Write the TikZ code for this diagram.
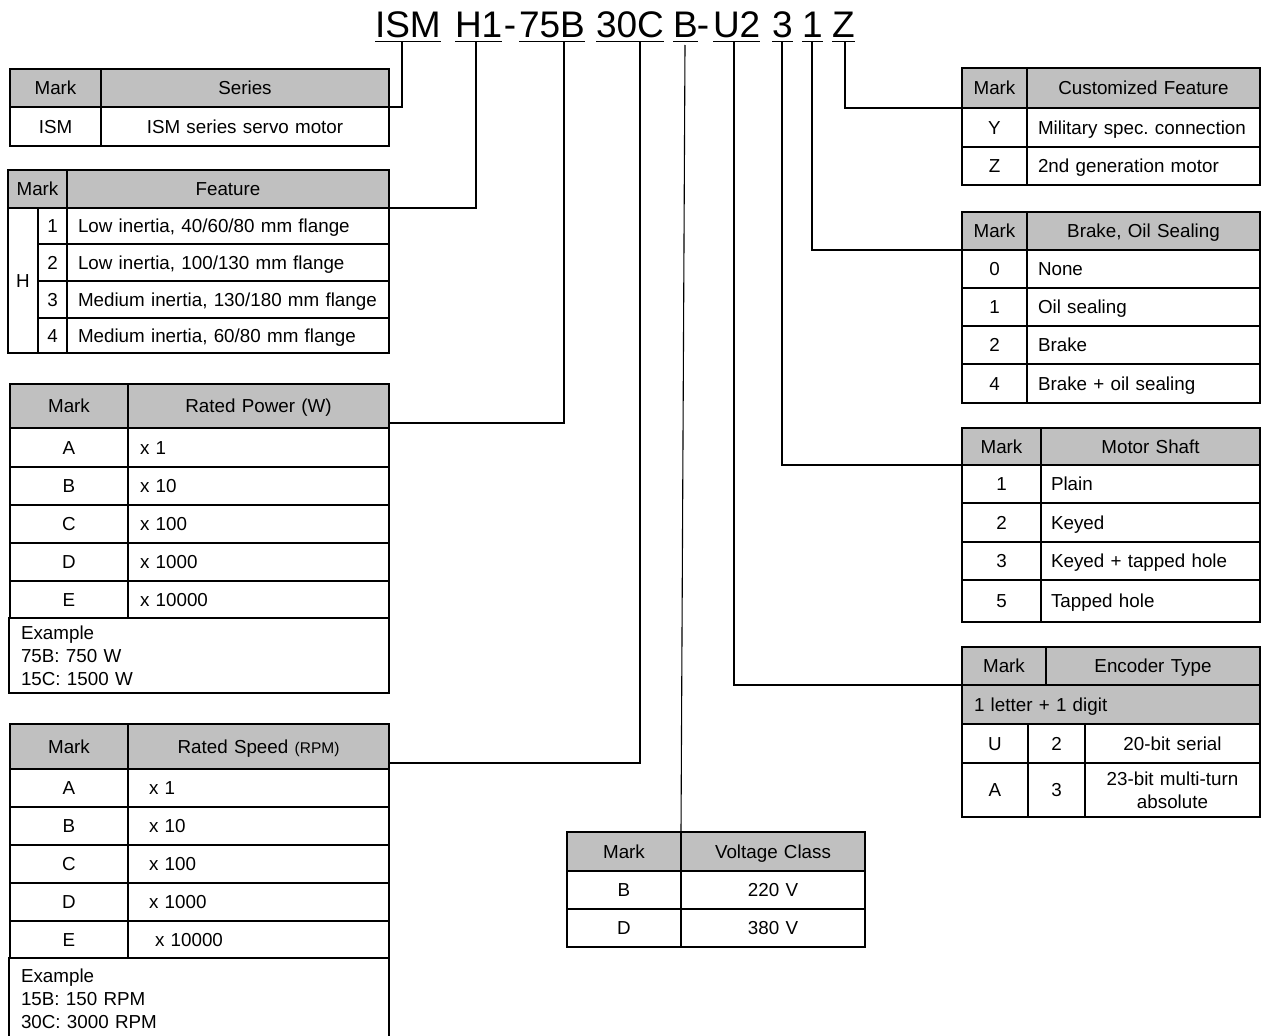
\documentclass[tikz,border=0pt]{standalone}
\usepackage{fontspec}
\setmainfont{Liberation Sans}
\definecolor{hdgray}{RGB}{192,192,192}
\newcommand\cellfont{\fontsize{18.8}{23}\selectfont}
\newcommand\titlefont{\fontsize{37}{40}\selectfont}
\newcommand\smallrpm{\fontsize{15.5}{18}\selectfont}
\frenchspacing
\tikzset{
  cellbox/.style={draw=black, line width=1.4pt, inner ysep=0pt, outer sep=0pt,
    font=\cellfont, text height=13.5pt, text depth=0pt},
  multi/.style={text height={}, text depth={}},
  hd/.style={fill=hdgray},
  conn/.style={draw=black, line width=1.1pt},
  uline/.style={draw=black, line width=1.7pt},
  ttl/.style={inner sep=0pt, outer sep=0pt, font=\titlefont}
}
% name, x1, y1, x2, y2, options, align, pad, text
\newcommand\tcell[9]{%
  \pgfmathsetmacro\tcW{#4-#2}\pgfmathsetmacro\tcH{#5-#3}%
  \pgfmathsetmacro\tcX{(#2+#4)/2}\pgfmathsetmacro\tcY{(#3+#5)/2}%
  \pgfmathsetmacro\tcT{#4-#2-2*#8}%
  \node[cellbox, #6, minimum width=\tcW pt, minimum height=\tcH pt,
    text width=\tcT pt, inner xsep=#8pt, align=#7] (#1) at (\tcX,\tcY) {#9};}
\begin{document}
\begin{tikzpicture}[x=1pt, y=-1pt]
\useasboundingbox (0,0) rectangle (1261,1036);

% ---------- title ----------
\node[ttl, anchor=base west] (tISM) at (375,37) {ISM};
\node[ttl, anchor=base west] (tH1) at (455,37) {H1};
\node[ttl, anchor=base] (tD1) at (510,37) {-};
\node[ttl, anchor=base west] (t75B) at (519,37) {75B};
\node[ttl, anchor=base west] (t30C) at (596,37) {30C};
\node[ttl, anchor=base west] (tB) at (673,37) {B};
\node[ttl, anchor=base] (tD2) at (703,37) {-};
\node[ttl, anchor=base west] (tU2) at (713,37) {U2};
\node[ttl, anchor=base west] (t3) at (772,37) {3};
\node[ttl, anchor=base west] (t1) at (802,37) {1};
\node[ttl, anchor=base west] (tZ) at (832,37) {Z};
\foreach \n in {tISM,tH1,t75B,t30C,tB,tU2,t3,t1,tZ}
  \draw[uline] ([yshift=-4.5pt]\n.base west) -- ([yshift=-4.5pt]\n.base east);

% ---------- Series ----------
\tcell{serMk}{10}{69}{101}{107}{hd}{center}{2}{Mark}
\tcell{serHd}{101}{69}{389}{107}{hd}{center}{2}{Series}
\tcell{serA}{10}{107}{101}{146}{}{center}{2}{ISM}
\tcell{serB}{101}{107}{389}{146}{}{center}{2}{ISM series servo motor}

% ---------- Feature ----------
\tcell{featMk}{8}{170}{67}{208}{hd}{center}{1}{Mark}
\tcell{featHd}{67}{170}{389}{208}{hd}{center}{2}{Feature}
\tcell{featH}{8}{208}{38}{353}{}{center}{1}{H}
\tcell{featN1}{38}{208}{67}{244}{}{center}{1}{1}
\tcell{featN2}{38}{244}{67}{281}{}{center}{1}{2}
\tcell{featN3}{38}{281}{67}{318}{}{center}{1}{3}
\tcell{featN4}{38}{318}{67}{353}{}{center}{1}{4}
\tcell{featT1}{67}{208}{389}{244}{}{left}{11}{\mbox{Low inertia, 40/60/80 mm flange}}
\tcell{featT2}{67}{244}{389}{281}{}{left}{11}{\mbox{Low inertia, 100/130 mm flange}}
\tcell{featT3}{67}{281}{389}{318}{}{left}{11}{\mbox{Medium inertia, 130/180 mm flange}}
\tcell{featT4}{67}{318}{389}{353}{}{left}{11}{\mbox{Medium inertia, 60/80 mm flange}}

% ---------- Rated Power ----------
\tcell{powMk}{10}{384}{128}{428}{hd}{center}{2}{Mark}
\tcell{powHd}{128}{384}{389}{428}{hd}{center}{2}{Rated Power (W)}
\tcell{powA}{10}{428}{128}{467}{}{center}{2}{A}
\tcell{powB}{10}{467}{128}{505}{}{center}{2}{B}
\tcell{powC}{10}{505}{128}{543}{}{center}{2}{C}
\tcell{powD}{10}{543}{128}{581}{}{center}{2}{D}
\tcell{powE}{10}{581}{128}{618}{}{center}{2}{E}
\tcell{powVA}{128}{428}{389}{467}{}{left}{12}{x 1}
\tcell{powVB}{128}{467}{389}{505}{}{left}{12}{x 10}
\tcell{powVC}{128}{505}{389}{543}{}{left}{12}{x 100}
\tcell{powVD}{128}{543}{389}{581}{}{left}{12}{x 1000}
\tcell{powVE}{128}{581}{389}{618}{}{left}{12}{x 10000}
\tcell{powEx}{9}{618}{389}{693}{multi}{left}{12}{Example\\75B: 750 W\\15C: 1500 W}

% ---------- Rated Speed ----------
\tcell{spdMk}{10}{724}{128}{769}{hd}{center}{2}{Mark}
\tcell{spdHd}{128}{724}{389}{769}{hd}{center}{2}{Rated Speed {\smallrpm(RPM)}}
\tcell{spdA}{10}{769}{128}{807}{}{center}{2}{A}
\tcell{spdB}{10}{807}{128}{845}{}{center}{2}{B}
\tcell{spdC}{10}{845}{128}{883}{}{center}{2}{C}
\tcell{spdD}{10}{883}{128}{921}{}{center}{2}{D}
\tcell{spdE}{10}{921}{128}{958}{}{center}{2}{E}
\tcell{spdVA}{128}{769}{389}{807}{}{left}{21}{x 1}
\tcell{spdVB}{128}{807}{389}{845}{}{left}{21}{x 10}
\tcell{spdVC}{128}{845}{389}{883}{}{left}{21}{x 100}
\tcell{spdVD}{128}{883}{389}{921}{}{left}{21}{x 1000}
\tcell{spdVE}{128}{921}{389}{958}{}{left}{27}{x 10000}
\tcell{spdEx}{9}{958}{389}{1040}{multi}{left}{12}{Example\\15B: 150 RPM\\30C: 3000 RPM}

% ---------- Voltage ----------
\tcell{volMk}{567}{832}{681}{871}{hd}{center}{2}{Mark}
\tcell{volHd}{681}{832}{865}{871}{hd}{center}{2}{Voltage Class}
\tcell{volB}{567}{871}{681}{909}{}{center}{2}{B}
\tcell{volBv}{681}{871}{865}{909}{}{center}{2}{220 V}
\tcell{volD}{567}{909}{681}{947}{}{center}{2}{D}
\tcell{volDv}{681}{909}{865}{947}{}{center}{2}{380 V}

% ---------- Customized ----------
\tcell{cusMk}{962}{68}{1027}{108}{hd}{center}{2}{Mark}
\tcell{cusHd}{1027}{68}{1260}{108}{hd}{center}{2}{Customized Feature}
\tcell{cusY}{962}{108}{1027}{147}{}{center}{2}{Y}
\tcell{cusYt}{1027}{108}{1260}{147}{}{left}{11}{\mbox{Military spec.\ connection}}
\tcell{cusZ}{962}{147}{1027}{185}{}{center}{2}{Z}
\tcell{cusZt}{1027}{147}{1260}{185}{}{left}{11}{\mbox{2nd generation motor}}

% ---------- Brake ----------
\tcell{brkMk}{962}{212}{1027}{250}{hd}{center}{2}{Mark}
\tcell{brkHd}{1027}{212}{1260}{250}{hd}{center}{2}{Brake, Oil Sealing}
\tcell{brk0}{962}{250}{1027}{288}{}{center}{2}{0}
\tcell{brk1}{962}{288}{1027}{326}{}{center}{2}{1}
\tcell{brk2}{962}{326}{1027}{364}{}{center}{2}{2}
\tcell{brk4}{962}{364}{1027}{403}{}{center}{2}{4}
\tcell{brk0t}{1027}{250}{1260}{288}{}{left}{11}{None}
\tcell{brk1t}{1027}{288}{1260}{326}{}{left}{11}{Oil sealing}
\tcell{brk2t}{1027}{326}{1260}{364}{}{left}{11}{Brake}
\tcell{brk4t}{1027}{364}{1260}{403}{}{left}{11}{\mbox{Brake + oil sealing}}

% ---------- Motor Shaft ----------
\tcell{shfMk}{962}{428}{1041}{465}{hd}{center}{2}{Mark}
\tcell{shfHd}{1041}{428}{1260}{465}{hd}{center}{2}{Motor Shaft}
\tcell{shf1}{962}{465}{1041}{503}{}{center}{2}{1}
\tcell{shf2}{962}{503}{1041}{542}{}{center}{2}{2}
\tcell{shf3}{962}{542}{1041}{580}{}{center}{2}{3}
\tcell{shf5}{962}{580}{1041}{622}{}{center}{2}{5}
\tcell{shf1t}{1041}{465}{1260}{503}{}{left}{10}{Plain}
\tcell{shf2t}{1041}{503}{1260}{542}{}{left}{10}{Keyed}
\tcell{shf3t}{1041}{542}{1260}{580}{}{left}{10}{\mbox{Keyed + tapped hole}}
\tcell{shf5t}{1041}{580}{1260}{622}{}{left}{10}{Tapped hole}

% ---------- Encoder ----------
\tcell{encMk}{962}{647}{1046}{685}{hd}{center}{2}{Mark}
\tcell{encHd}{1046}{647}{1260}{685}{hd}{center}{2}{Encoder Type}
\tcell{encSub}{962}{685}{1260}{724}{hd}{left}{12}{1 letter + 1 digit}
\tcell{encU}{962}{724}{1028}{763}{}{center}{2}{U}
\tcell{enc2}{1028}{724}{1085}{763}{}{center}{2}{2}
\tcell{enc2t}{1085}{724}{1260}{763}{}{center}{2}{20-bit serial}
\tcell{encA}{962}{763}{1028}{817}{}{center}{2}{A}
\tcell{enc3}{1028}{763}{1085}{817}{}{center}{2}{3}
\tcell{enc3t}{1085}{763}{1260}{817}{multi}{center}{2}{23-bit multi-turn\\absolute}

% ---------- connectors ----------
\coordinate (cISM) at (402,41.5);
\coordinate (cH1) at (476,41.5);
\coordinate (c75B) at (564,41.5);
\coordinate (c30C) at (640,41.5);
\coordinate (cB) at (685,45);
\coordinate (cU2) at (734,41.5);
\coordinate (c3) at (782,41.5);
\coordinate (c1) at (812,41.5);
\coordinate (cZ) at (845,41.5);
\draw[conn] (cISM) |- (serHd.south east);
\draw[conn] (cH1) |- (featHd.south east);
\draw[conn] (c75B) |- ([yshift=5pt]powHd.south east);
\draw[conn] (c30C) |- ([yshift=6pt]spdHd.south east);
\draw[conn] (cB) -- (volMk.north east);
\draw[conn] (cU2) |- (encMk.south west);
\draw[conn] (c3) |- (shfMk.south west);
\draw[conn] (c1) |- (brkMk.south west);
\draw[conn] (cZ) |- (cusMk.south west);
\end{tikzpicture}
\end{document}
